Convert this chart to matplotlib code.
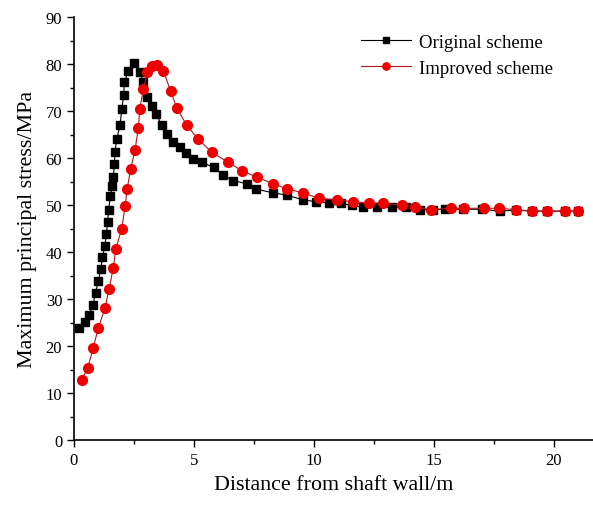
import matplotlib.pyplot as plt
from matplotlib.ticker import MultipleLocator

plt.rcParams['font.family'] = ['Liberation Serif', 'DejaVu Serif']

# Original scheme (black squares)
orig_x = [0.2, 0.46, 0.63, 0.79, 0.90, 1.01, 1.12, 1.18, 1.29, 1.35, 1.40, 1.44,
          1.52, 1.60, 1.64, 1.68, 1.71, 1.78, 1.92, 1.99, 2.07, 2.10, 2.26, 2.50,
          2.75, 2.86, 3.05, 3.24, 3.42, 3.65, 3.89, 4.14, 4.42, 4.67, 4.97, 5.32,
          5.83, 6.20, 6.64, 7.20, 7.58, 8.28, 8.86, 9.55, 10.08, 10.64, 11.11,
          11.57, 12.03, 12.64, 13.24, 13.83, 14.42, 14.95, 15.46, 16.20, 16.99,
          17.75, 18.42, 19.07, 19.70, 20.46, 21.01]
orig_y = [23.9, 25.2, 26.7, 28.8, 31.3, 33.8, 36.3, 38.9, 41.3, 43.9, 46.4, 48.9,
          52.0, 54.1, 55.9, 58.7, 61.3, 64.0, 67.0, 70.4, 73.3, 76.1, 78.5, 80.2,
          78.4, 76.2, 72.9, 71.0, 69.4, 67.0, 65.1, 63.5, 62.3, 61.1, 59.8, 59.1,
          58.0, 56.4, 55.2, 54.5, 53.4, 52.6, 52.1, 51.1, 50.7, 50.4, 50.4,
          49.9, 49.5, 49.5, 49.5, 49.5, 49.0, 49.0, 49.1, 49.1, 49.1,
          48.7, 48.9, 48.7, 48.7, 48.7, 48.7]

# Improved scheme (red circles)
impr_x = [0.32, 0.57, 0.80, 1.01, 1.29, 1.46, 1.64, 1.74, 1.99, 2.13, 2.21, 2.36,
          2.54, 2.68, 2.74, 2.89, 3.05, 3.25, 3.45, 3.72, 4.03, 4.28, 4.69, 5.18,
          5.74, 6.43, 6.99, 7.64, 8.30, 8.89, 9.53, 10.22, 10.95, 11.61, 12.30,
          12.86, 13.65, 14.20, 14.86, 15.69, 16.25, 17.08, 17.72, 18.42, 19.07,
          19.70, 20.46, 21.01]
impr_y = [12.8, 15.3, 19.6, 23.8, 28.0, 32.1, 36.7, 40.6, 45.0, 49.7, 53.3, 57.6,
          61.7, 66.3, 70.4, 74.6, 78.2, 79.6, 79.7, 78.6, 74.2, 70.7, 67.0, 64.0,
          61.2, 59.1, 57.3, 55.9, 54.5, 53.4, 52.6, 51.4, 51.1, 50.7, 50.4,
          50.4, 50.0, 49.6, 49.0, 49.3, 49.3, 49.3, 49.3, 49.0, 48.7,
          48.7, 48.7, 48.7]

fig = plt.figure(figsize=(5.93, 5.06), dpi=100)
ax = fig.add_axes([74 / 593, 65 / 506, 519 / 593, 423 / 506])

ax.plot(orig_x, orig_y, color='black', lw=0.8, marker='s', ms=6.2,
        label='Original scheme')
ax.plot(impr_x, impr_y, color='#b01820', lw=0.8, marker='o', ms=7,
        markerfacecolor='#ee0000', markeredgecolor='#ee0000',
        label='Improved scheme')

ax.set_xlim(0, 519 / 24)
ax.set_ylim(0, 90)
ax.xaxis.set_major_locator(MultipleLocator(5))
ax.xaxis.set_minor_locator(MultipleLocator(2.5))
ax.yaxis.set_major_locator(MultipleLocator(10))
ax.yaxis.set_minor_locator(MultipleLocator(5))
ax.tick_params(which='major', direction='out', length=5, width=1, labelsize=12)
ax.tick_params(which='minor', direction='out', length=3, width=1)

for side in ('top', 'right'):
    ax.spines[side].set_visible(False)
for side in ('left', 'bottom'):
    ax.spines[side].set_linewidth(1.2)

ax.set_xlabel('Distance from shaft wall/m', fontsize=15.8, labelpad=5)
ax.set_ylabel('Maximum principal stress/MPa', fontsize=15.8, labelpad=6)

ax.legend(loc='upper right', bbox_to_anchor=(0.955, 1.0), frameon=False,
          fontsize=13.5, handlelength=2.7, handletextpad=0.4,
          labelspacing=0.45, markerscale=0.75)

fig.savefig('out.png', dpi=100)
